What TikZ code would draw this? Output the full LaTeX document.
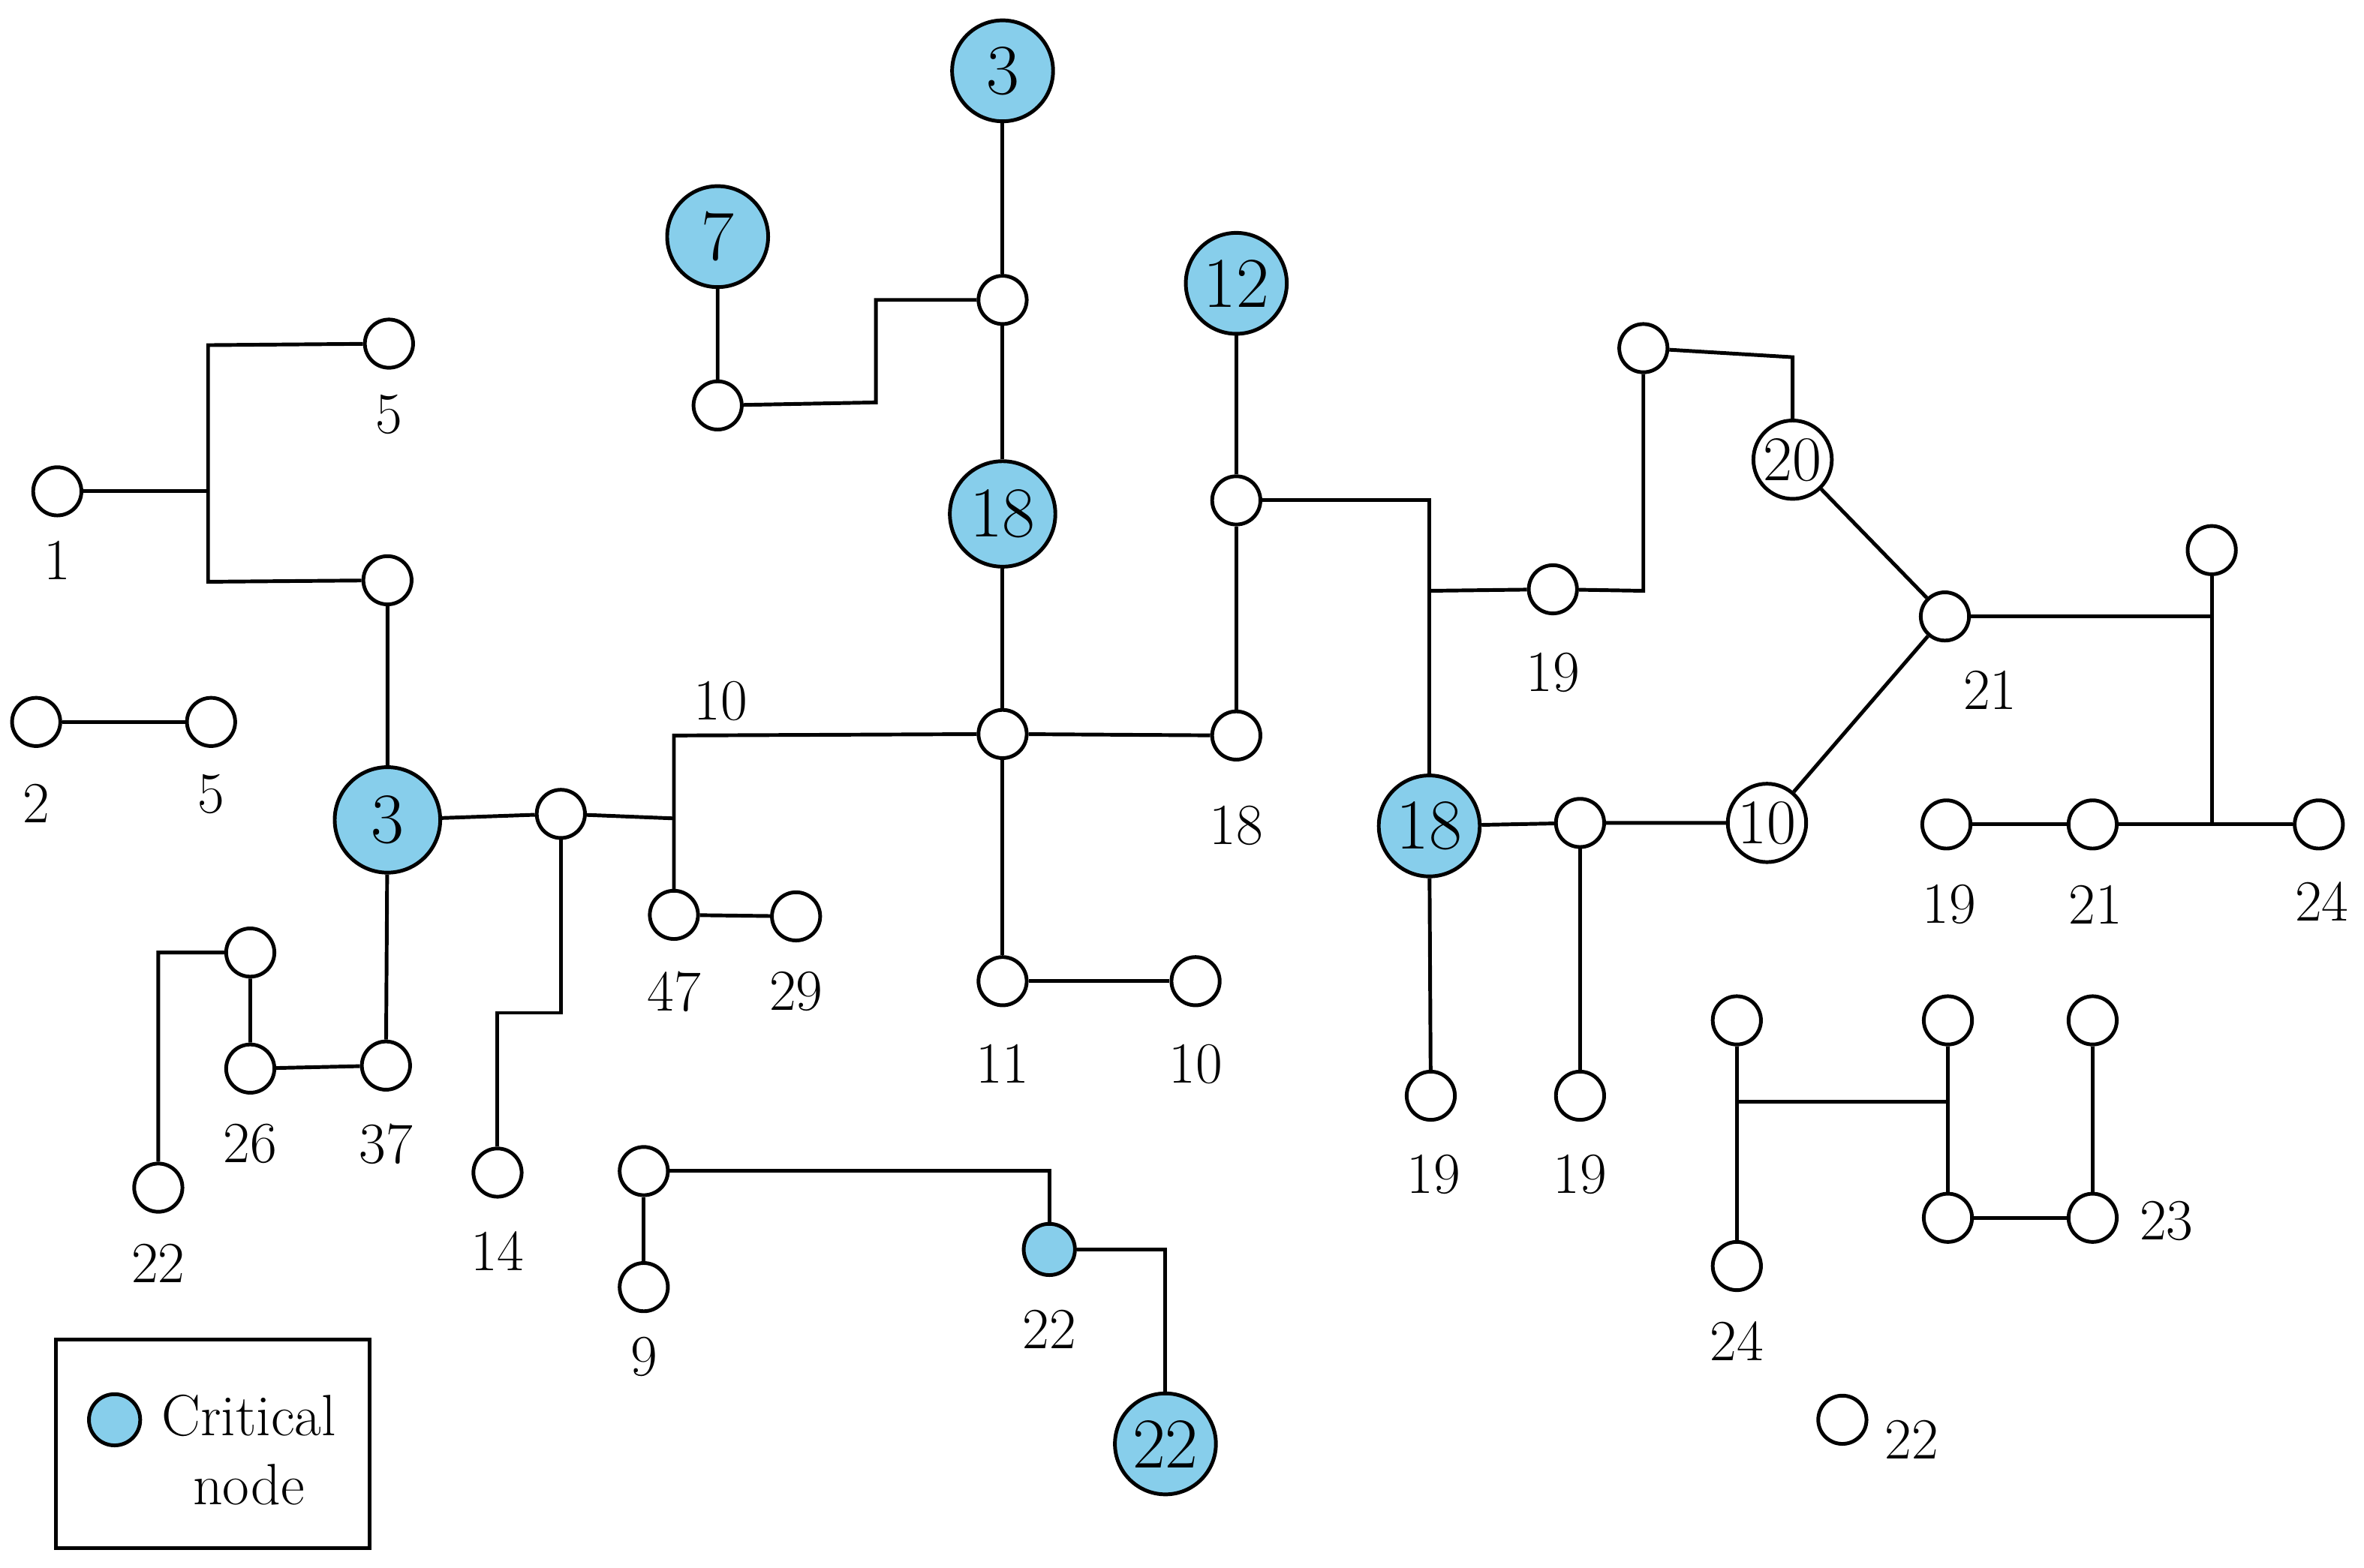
\documentclass[tikz,border=0pt]{standalone}
\begin{document}
\begin{tikzpicture}[x=0.02cm,y=-0.02cm,line width=1.4pt,
 sm/.style={circle,draw,fill=white,inner sep=0pt,minimum size=0.64cm},
 big/.style={circle,draw,fill=cyan!45!blue!25,fill=crit,inner sep=0pt,minimum size=1.34cm,font=\fontsize{27}{30}\selectfont},
 wl/.style={circle,draw,fill=white,inner sep=0pt,minimum size=1.04cm,font=\fontsize{24}{28}\selectfont},
 lb/.style={font=\fontsize{22}{26}\selectfont}]
\definecolor{crit}{RGB}{135,206,235}
\useasboundingbox (0,0) rectangle (1568,1040);
% big
\node[big] (C3t) at (665,47) {3};
\node[big] (C7) at (476,157) {7};
\node[big] (C12) at (820,188) {12};
\node[big,minimum size=1.4cm] (C18a) at (665,341) {18};
\node[big,minimum size=1.4cm] (C3l) at (257,544) {3};
\node[big] (C18b) at (948,548) {18};
\node[big] (C22) at (773,958) {22};
\node[sm,fill=crit,minimum size=0.68cm] (s22) at (696,829) {};
\node[wl] (W20) at (1189,305) {20};
\node[wl] (W10) at (1172,546) {10};
% small
\foreach \n/\x/\y in {a5/258/228,a1/38/326,a3/257/385,a2/24/479,a5b/140/479,n1/372/540,n47/447/607,n29/528/608,nc/665/487,ntop/665/199,n7/476/269,n12/820/332,n18/820/488,n11/665/651,n10/793/651,n19a/1030/391,ntr/1090/231,n21/1290/409,nR/1467/365,n19b/1291/547,n21b/1388/547,n24/1538/547,nm/1048/546,n19c/949/727,n19d/1048/727,n22l/105/788,nq/166/632,n26/166/709,n37/256/707,n14/330/778,n9t/427/777,n9/427/854,ha/1152/677,hb/1292/677,hc/1388/677,n24b/1152/840,hd/1292/808,n23/1388/808,n22r/1222/942}
 \node[sm] (\n) at (\x,\y) {};
% labels
\foreach \x/\y/\t in {258/275/5,38/372/1,24/533/2,140/527/5,447/658/47,528/658/29,478/465/10,820/548/18,665/706/11,793/706/10,1030/446/19,1320/458/21,1293/600/19,1390/600/21,1540/598/24,951/779/19,1048/779/19,105/838/22,166/759/26,256/759/37,330/830/14,427/900/9,696/882/22,1152/890/24,1437/810/23,1268/955/22}
 \node[lb] at (\x,\y) {\t};
% edges
\begin{scope}[on background layer/.style={}]
\draw (a1) -- (138,326);
\draw (a5) -- (138,229) -- (138,386) -- (a3);
\draw (a3) -- (C3l) -- (n37);
\draw (a2) -- (a5b);
\draw (C3l) -- (n1) -- (447,543);
\draw (n47) -- (447,488) -- (nc);
\draw (n1) -- (372,672) -- (330,672) -- (n14);
\draw (n47) -- (n29);
\draw (nc) -- (n18); \draw (nc) -- (C18a) -- (ntop) -- (C3t);
\draw (ntop) -- (581,199) -- (581,267) -- (n7) -- (C7);
\draw (nc) -- (n11) -- (n10);
\draw (C12) -- (n12) -- (n18);
\draw (n12) -- (948,332) -- (C18b);
\draw (948,392) -- (n19a) -- (1090,392) -- (ntr);
\draw (ntr) -- (1189,237) -- (W20);
\draw (W20) -- (n21) -- (W10);
\draw (n21) -- (1467,409); \draw (nR) -- (1467,547);
\draw (n19b) -- (n21b) -- (n24);
\draw (C18b) -- (nm) -- (W10); \draw (nm) -- (n19d); \draw (C18b) -- (n19c);
\draw (n22l) -- (105,632) -- (nq) -- (n26) -- (n37);
\draw (n9) -- (n9t) -- (696,777) -- (s22);
\draw (s22) -- (773,829) -- (C22);
\draw (ha) -- (n24b); \draw (1152,731) -- (1292,731);
\draw (hb) -- (hd) -- (n23) -- (hc);
\end{scope}
% redraw nodes on top
\foreach \n in {C3t,C7,C12,C18a,C3l,C18b,C22,s22,W20,W10} {}
% legend
\draw (37,889) rectangle (245,1027);
\node[sm,fill=crit,minimum size=0.68cm] (leg) at (76,942) {};
\node[font=\fontsize{22}{26}\selectfont,align=center] (legt) at (165,962) {Critical\\node};
\end{tikzpicture}
\end{document}
